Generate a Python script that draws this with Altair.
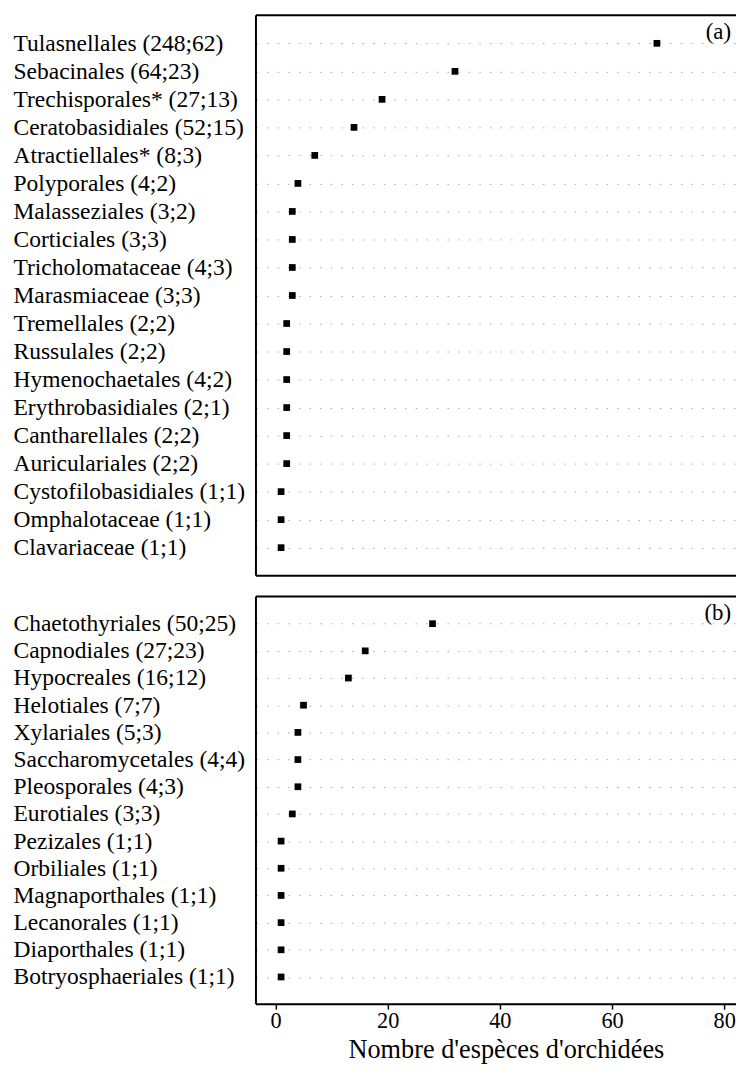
import altair as alt
import pandas as pd

labels_a = ["Tulasnellales (248;62)", "Sebacinales (64;23)", "Trechisporales* (27;13)",
            "Ceratobasidiales (52;15)", "Atractiellales* (8;3)", "Polyporales (4;2)",
            "Malasseziales (3;2)", "Corticiales (3;3)", "Tricholomataceae (4;3)",
            "Marasmiaceae (3;3)", "Tremellales (2;2)", "Russulales (2;2)",
            "Hymenochaetales (4;2)", "Erythrobasidiales (2;1)", "Cantharellales (2;2)",
            "Auriculariales (2;2)", "Cystofilobasidiales (1;1)", "Omphalotaceae (1;1)",
            "Clavariaceae (1;1)"]
values_a = [68, 32, 19, 14, 7, 4, 3, 3, 3, 3, 2, 2, 2, 2, 2, 2, 1, 1, 1]

labels_b = ["Chaetothyriales (50;25)", "Capnodiales (27;23)", "Hypocreales (16;12)",
            "Helotiales (7;7)", "Xylariales (5;3)", "Saccharomycetales (4;4)",
            "Pleosporales (4;3)", "Eurotiales (3;3)", "Pezizales (1;1)",
            "Orbiliales (1;1)", "Magnaporthales (1;1)", "Lecanorales (1;1)",
            "Diaporthales (1;1)", "Botryosphaeriales (1;1)"]
values_b = [28, 16, 13, 5, 4, 4, 4, 3, 1, 1, 1, 1, 1, 1]

x_ticks = [0, 20, 40, 60, 80]
x_title = "Nombre d'espèces d'orchidées"
panel_tags = ["(a)", "(b)"]

FONT = "Liberation Serif"
W = 484
H_A = 565
H_B = 411
X_DOMAIN = [-3.48, 82.1]

one = pd.DataFrame({"k": [0]})


def panel(labels, values, height, tag, show_x):
    df = pd.DataFrame({"label": labels, "value": values})
    if show_x:
        x_axis = alt.Axis(values=x_ticks, grid=False, domain=False, ticks=True,
                          tickSize=5, tickWidth=1.5, tickColor="black",
                          labelFontSize=22.5, labelColor="black", labelFont=FONT,
                          labelPadding=1, labelFlush=False,
                          title=x_title, titleFontSize=26.5, titleFont=FONT,
                          titleFontWeight="normal", titleColor="black",
                          titleX=252, titleAlign="center", titlePadding=4)
    else:
        x_axis = None
    y_axis = alt.Axis(title=None, labelAlign="left", labelPadding=245, ticks=False,
                      tickSize=0, domain=False, grid=True, gridDash=[1.5, 9.2],
                      gridColor="#a8a8a8", gridWidth=1, labelFontSize=23.7,
                      labelFont=FONT, labelColor="black", labelLimit=400)
    pts = alt.Chart(df).mark_square(size=46, color="black", opacity=1).encode(
        x=alt.X("value:Q", scale=alt.Scale(domain=X_DOMAIN, nice=False, zero=False),
                axis=x_axis),
        y=alt.Y("label:N", sort=labels, scale=alt.Scale(padding=1), axis=y_axis),
    )
    top = alt.Chart(one).mark_rule(color="black", strokeWidth=2).encode(
        x=alt.value(0), x2=alt.value(W), y=alt.value(0))
    left = alt.Chart(one).mark_rule(color="black", strokeWidth=2).encode(
        x=alt.value(0), y=alt.value(0), y2=alt.value(height))
    bottom = alt.Chart(one).mark_rule(color="black", strokeWidth=2).encode(
        x=alt.value(0), x2=alt.value(W), y=alt.value(height))
    txt = alt.Chart(one).mark_text(align="right", baseline="alphabetic", fontSize=23,
                                   font=FONT, color="black").encode(
        x=alt.value(479), y=alt.value(24), text=alt.value(tag))
    return alt.layer(pts, top, left, bottom, txt).properties(width=W, height=height)


chart = alt.vconcat(
    panel(labels_a, values_a, H_A, panel_tags[0], False),
    panel(labels_b, values_b, H_B, panel_tags[1], True),
    spacing=19,
).properties(
    padding={"left": 5, "top": 2, "right": 0, "bottom": 0}
).configure(
    background="white", font=FONT
).configure_view(
    stroke=None
).configure_axis(
    labelFont=FONT, titleFont=FONT
).configure_text(font=FONT)

chart.save("out.html", embed_options={"renderer": "svg", "actions": False})
